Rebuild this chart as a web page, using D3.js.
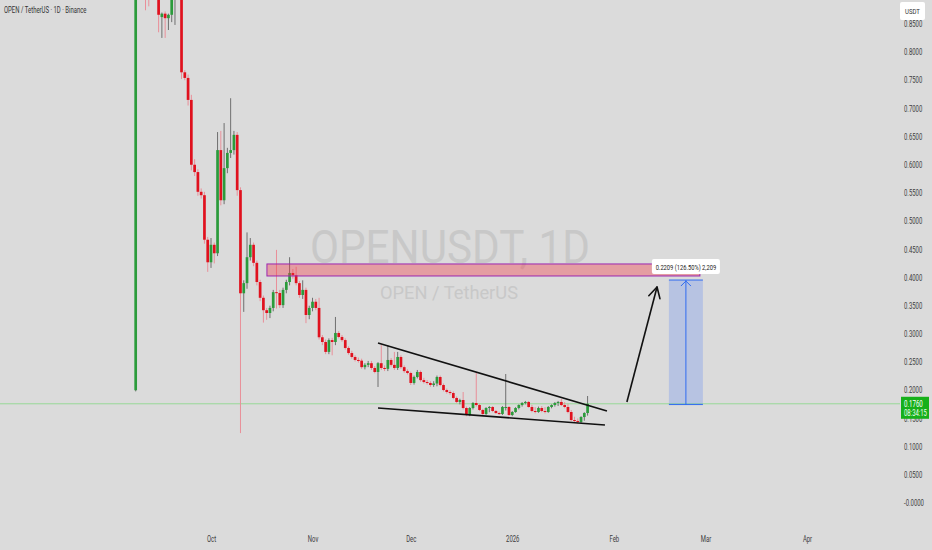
<!DOCTYPE html>
<html><head><meta charset="utf-8">
<script src="https://cdn.jsdelivr.net/npm/d3@7/dist/d3.min.js"></script>
<style>
html,body{margin:0;padding:0;background:#dbdbdb;}
svg{display:block;font-family:Roboto,"Noto Sans",sans-serif;}
</style></head>
<body><svg id="chart" width="932" height="550"></svg>
<script>
// ---------- DATA ----------
const startDate = "2025-09-08"; // first daily candle (listing day)
const open = [
 0.200,1.200,1.050,1.000,0.980,0.950,0.970,0.930,0.862,0.868,
 0.860,0.866,0.930,0.950,0.920,0.764,0.754,0.715,0.600,0.587,
 0.552,0.546,0.467,0.427,0.458,0.443,0.626,0.537,0.594,0.621,
 0.626,0.653,0.555,0.372,0.390,0.436,0.458,0.426,0.392,0.364,
 0.342,0.337,0.346,0.374,0.3725,0.351,0.378,0.392,0.408,0.404,
 0.390,0.369,0.378,0.3335,0.346,0.357,0.346,0.294,0.2856,0.268,
 0.289,0.2856,0.3016,0.2945,0.289,0.275,0.266,0.259,0.2537,0.2525,
 0.241,0.245,0.248,0.2395,0.2324,0.248,0.2395,0.238,0.2537,0.245,
 0.2395,0.259,0.241,0.234,0.2306,0.2129,0.2235,0.2324,0.218,0.2146,
 0.2129,0.2093,0.2120,0.2235,0.2093,0.2004,0.1969,0.1951,0.1863,0.1792,
 0.1827,0.1685,0.1561,0.1685,0.1774,0.1738,0.1650,0.1579,0.1685,0.1703,
 0.1632,0.1596,0.1579,0.1685,0.1703,0.1561,0.1614,0.1685,0.1738,0.1774,
 0.1792,0.1703,0.1632,0.1614,0.1685,0.1632,0.1614,0.1703,0.1738,0.1774,
 0.1792,0.1738,0.1703,0.1614,0.1472,0.1455,0.1437,0.1525,0.1596
];
const high = [
 1.800,1.500,1.150,1.050,1.020,1.000,0.990,0.950,0.870,0.872,
 0.868,0.930,0.960,1.000,0.940,0.768,0.760,0.724,0.610,0.592,
 0.558,0.552,0.472,0.470,0.462,0.658,0.660,0.674,0.630,0.718,
 0.660,0.658,0.560,0.395,0.480,0.470,0.462,0.430,0.396,0.368,
 0.346,0.350,0.378,0.449,0.378,0.382,0.396,0.436,0.415,0.419,
 0.394,0.395,0.382,0.350,0.364,0.362,0.364,0.298,0.290,0.292,
 0.293,0.330,0.305,0.298,0.292,0.278,0.270,0.262,0.258,0.256,
 0.248,0.252,0.252,0.243,0.250,0.280,0.244,0.280,0.257,0.268,
 0.268,0.262,0.244,0.237,0.233,0.226,0.236,0.235,0.222,0.218,
 0.216,0.216,0.226,0.226,0.212,0.203,0.200,0.198,0.189,0.185,
 0.1969,0.171,0.170,0.179,0.2306,0.176,0.167,0.170,0.172,0.172,
 0.165,0.162,0.172,0.2288,0.172,0.163,0.170,0.175,0.179,0.181,
 0.181,0.174,0.170,0.171,0.172,0.170,0.172,0.175,0.179,0.181,
 0.1845,0.179,0.176,0.165,0.153,0.150,0.154,0.161,0.1898
];
const low = [
 0.198,1.000,0.950,0.874,0.881,0.900,0.900,0.835,0.825,0.825,
 0.839,0.853,0.848,0.900,0.752,0.750,0.705,0.590,0.580,0.545,
 0.540,0.460,0.410,0.417,0.425,0.438,0.528,0.530,0.585,0.612,
 0.618,0.545,0.124,0.339,0.380,0.430,0.420,0.386,0.358,0.320,
 0.325,0.328,0.340,0.345,0.346,0.346,0.372,0.386,0.398,0.386,
 0.364,0.362,0.319,0.326,0.340,0.342,0.290,0.280,0.264,0.264,
 0.262,0.280,0.292,0.286,0.272,0.263,0.256,0.251,0.249,0.238,
 0.237,0.241,0.236,0.230,0.2058,0.236,0.234,0.234,0.242,0.236,
 0.236,0.238,0.231,0.228,0.2093,0.210,0.221,0.215,0.212,0.210,
 0.206,0.206,0.207,0.207,0.198,0.194,0.192,0.184,0.177,0.175,
 0.166,0.154,0.154,0.166,0.171,0.163,0.156,0.156,0.161,0.161,
 0.158,0.156,0.156,0.164,0.154,0.154,0.160,0.166,0.171,0.175,
 0.169,0.161,0.159,0.160,0.161,0.159,0.160,0.168,0.171,0.172,
 0.172,0.168,0.159,0.145,0.143,0.141,0.142,0.146,0.155
];
const close = [
 1.200,1.050,1.000,0.980,0.950,0.970,0.930,0.866,0.868,0.860,
 0.866,0.900,0.950,0.920,0.764,0.754,0.715,0.600,0.587,0.552,
 0.546,0.467,0.427,0.458,0.443,0.626,0.537,0.594,0.621,0.626,
 0.653,0.555,0.372,0.390,0.436,0.458,0.426,0.392,0.364,0.342,
 0.337,0.346,0.374,0.3725,0.351,0.378,0.392,0.408,0.404,0.390,
 0.369,0.378,0.3335,0.346,0.357,0.346,0.294,0.2856,0.268,0.289,
 0.2856,0.3016,0.2945,0.289,0.275,0.266,0.259,0.2537,0.2525,0.241,
 0.245,0.248,0.2395,0.2324,0.248,0.2395,0.238,0.2537,0.245,0.2395,
 0.259,0.241,0.234,0.2306,0.2129,0.2235,0.2324,0.218,0.2146,0.2129,
 0.2093,0.2120,0.2235,0.2093,0.2004,0.1969,0.1951,0.1863,0.1792,0.1827,
 0.1685,0.1561,0.1685,0.1774,0.1738,0.1650,0.1579,0.1685,0.1703,0.1632,
 0.1596,0.1579,0.1703,0.1703,0.1561,0.1614,0.1685,0.1738,0.1774,0.1792,
 0.1703,0.1632,0.1614,0.1685,0.1632,0.1614,0.1703,0.1738,0.1774,0.1792,
 0.1738,0.1703,0.1614,0.1472,0.1455,0.1437,0.1525,0.1596,0.1760
];
const monthTicks  = ["2025-10-01","2025-11-01","2025-12-01","2026-01-01","2026-02-01","2026-03-01","2026-04-01"];
const monthLabels = ["Oct","Nov","Dec","2026","Feb","Mar","Apr"];
const priceTicks  = [0,0.05,0.10,0.15,0.20,0.25,0.30,0.35,0.40,0.45,0.50,0.55,0.60,0.65,0.70,0.75,0.80,0.85];
const priceLabels = ["-0.0000","0.0500","0.1000","0.1500","0.2000","0.2500","0.3000","0.3500","0.4000","0.4500","0.5000","0.5500","0.6000","0.6500","0.7000","0.7500","0.8000","0.8500"];
const lastPrice = 0.1760, countdown = "08:34:15", currency = "USDT";
const titleText = "OPEN / TetherUS · 1D · Binance";
const watermark1 = "OPENUSDT, 1D", watermark2 = "OPEN / TetherUS";
// drawings (date, price anchors)
const zoneDates  = ["2025-10-18T02:00Z","2026-02-27T07:00Z"], zonePrices = [0.4027,0.424];
const upperLine  = [["2025-11-21T00:00Z",0.2838],["2026-01-29T22:00Z",0.1632]];
const lowerLine  = [["2025-11-21T00:00Z",0.1685],["2026-01-29T07:00Z",0.1384]];
const bigArrow   = [["2026-02-05T00:00Z",0.1792],["2026-02-14T05:00Z",0.3831]];
const measureDates = ["2026-02-17T20:00Z","2026-02-28T05:00Z"], measurePrices = [0.1746,0.3955];
const measureText = "0.2209 (126.50%) 2,209";

// ---------- SCALES ----------
const svg = d3.select("#chart");
const W = 932, H = 550, plotR = 900, plotB = 530;
const x = d3.scaleUtc().domain([new Date("2025-10-01T00:00Z"), new Date("2026-04-01T00:00Z")]).range([211, 807]);
const y = d3.scaleLinear().domain([0, 0.8]).range([503, 52]);
const day0 = new Date(startDate + "T00:00Z");
const candles = open.map((o,i)=>({date:d3.utcDay.offset(day0,i), o, h:high[i], l:low[i], c:close[i]}));

function squeeze(sel, f){ sel.each(function(){ const w=this.getComputedTextLength(); this.setAttribute("textLength", (w*f).toFixed(2)); this.setAttribute("lengthAdjust","spacingAndGlyphs"); }); }

svg.append("rect").attr("width",W).attr("height",H).attr("fill","#dbdbdb");
svg.append("defs").append("clipPath").attr("id","plot").append("rect").attr("x",0).attr("y",0).attr("width",plotR).attr("height",plotB);

// watermark
const wm = svg.append("g").attr("fill","#c8c8c8").attr("text-anchor","middle");
wm.append("text").attr("x",450).attr("y",263).attr("font-size",46).attr("textLength",280).attr("lengthAdjust","spacingAndGlyphs").text(watermark1);
wm.append("text").attr("x",449).attr("y",299).attr("font-size",19).attr("textLength",138).attr("lengthAdjust","spacingAndGlyphs").text(watermark2);

const plot = svg.append("g").attr("clip-path","url(#plot)");

// last price line
plot.append("line").attr("x1",0).attr("x2",plotR).attr("y1",y(lastPrice)).attr("y2",y(lastPrice)).attr("stroke","#98d898").attr("stroke-width",1);

// candles
const up="#2b9b3b", dn="#e0111e", wickUp="#6f6f6f", wickDn="#e98f99";
const cg = plot.append("g");
cg.selectAll("line.w").data(candles).join("line").attr("class","w")
  .attr("x1",d=>x(d.date)).attr("x2",d=>x(d.date)).attr("y1",d=>y(d.h)).attr("y2",d=>y(d.l))
  .attr("stroke",d=>d.c>=d.o?wickUp:wickDn).attr("stroke-width",1);
cg.selectAll("rect.b").data(candles).join("rect").attr("class","b")
  .attr("x",d=>x(d.date)-1.35).attr("width",2.7)
  .attr("y",d=>y(Math.max(d.o,d.c))).attr("height",d=>Math.max(1,Math.abs(y(d.o)-y(d.c))))
  .attr("fill",d=>d.c>=d.o?up:dn);

// zone
const zx0=x(new Date(zoneDates[0])), zx1=x(new Date(zoneDates[1])), zy0=y(zonePrices[1]), zy1=y(zonePrices[0]);
plot.append("rect").attr("x",zx0).attr("y",zy0).attr("width",zx1-zx0).attr("height",zy1-zy0)
  .attr("fill","#f23645").attr("fill-opacity",0.38).attr("stroke","#9c27b0").attr("stroke-width",1);

// trend lines
[upperLine, lowerLine].forEach(l=>{
  plot.append("line").attr("x1",x(new Date(l[0][0]))).attr("y1",y(l[0][1])).attr("x2",x(new Date(l[1][0]))).attr("y2",y(l[1][1]))
    .attr("stroke","#111").attr("stroke-width",1.6);
});
// big arrow
{
  const ax0=x(new Date(bigArrow[0][0])), ay0=y(bigArrow[0][1]), ax1=x(new Date(bigArrow[1][0])), ay1=y(bigArrow[1][1]);
  plot.append("line").attr("x1",ax0).attr("y1",ay0).attr("x2",ax1).attr("y2",ay1).attr("stroke","#111").attr("stroke-width",1.6);
  const ang=Math.atan2(ay0-ay1, ax0-ax1), L=12, spread=0.5;
  [ang-spread, ang+spread].forEach(a=>{
    plot.append("line").attr("x1",ax1).attr("y1",ay1).attr("x2",ax1+L*Math.cos(a)).attr("y2",ay1+L*Math.sin(a))
      .attr("stroke","#111").attr("stroke-width",1.6).attr("stroke-linecap","round");
  });
}
// measure
{
  const mx0=x(new Date(measureDates[0])), mx1=x(new Date(measureDates[1])), myB=y(measurePrices[0]), myT=y(measurePrices[1]), mc=(mx0+mx1)/2;
  const mg=plot.append("g");
  mg.append("rect").attr("x",mx0).attr("y",myT).attr("width",mx1-mx0).attr("height",myB-myT).attr("fill","#2962ff").attr("fill-opacity",0.2);
  const blue="#2f6bf0";
  mg.append("line").attr("x1",mx0).attr("x2",mx1).attr("y1",myT).attr("y2",myT).attr("stroke",blue);
  mg.append("line").attr("x1",mx0).attr("x2",mx1).attr("y1",myB).attr("y2",myB).attr("stroke",blue);
  mg.append("line").attr("x1",mc).attr("x2",mc).attr("y1",myB).attr("y2",myT).attr("stroke",blue);
  mg.append("path").attr("d",`M${mc-5},${myT+6}L${mc},${myT+1}L${mc+5},${myT+6}`).attr("fill","none").attr("stroke",blue);
  const lb=mg.append("g");
  lb.append("rect").attr("x",mc-34).attr("y",myT-21).attr("width",68).attr("height",15).attr("rx",2).attr("fill","#ffffff");
  const t=lb.append("text").attr("x",mc).attr("y",myT-10.5).attr("text-anchor","middle").attr("font-size",8).attr("fill","#222").text(measureText);
  squeeze(t,0.72);
}

// axes
const ya = svg.append("g").attr("transform",`translate(904,0)`)
  .call(d3.axisRight(y).tickValues(priceTicks).tickFormat((d,i)=>priceLabels[i]).tickSize(0).tickPadding(0));
ya.select(".domain").remove();
ya.selectAll("text").attr("font-size",8.5).attr("fill","#3b3b3b").attr("font-family","Roboto");
squeeze(ya.selectAll("text"),0.7);

const xa = svg.append("g").attr("transform",`translate(0,536)`)
  .call(d3.axisBottom(x).tickValues(monthTicks.map(s=>new Date(s+"T00:00Z"))).tickFormat((d,i)=>monthLabels[i]).tickSize(0).tickPadding(0));
xa.select(".domain").remove();
xa.selectAll("text").attr("font-size",8.5).attr("fill","#3b3b3b").attr("font-family","Roboto");
squeeze(xa.selectAll("text"),0.7);

// currency box
svg.append("rect").attr("x",900).attr("y",2).attr("width",25).attr("height",18).attr("rx",2).attr("fill","#ffffff");
squeeze(svg.append("text").attr("x",912.5).attr("y",14).attr("text-anchor","middle").attr("font-size",8).attr("fill","#333").text(currency),0.75);

// last price label
const py=y(lastPrice);
svg.append("rect").attr("x",901).attr("y",py-7).attr("width",28).attr("height",22).attr("fill","#16b01a");
squeeze(svg.append("text").attr("x",904).attr("y",py+3).attr("font-size",8.5).attr("fill","#fff").text(d3.format(".4f")(lastPrice)),0.72);
squeeze(svg.append("text").attr("x",904).attr("y",py+12.5).attr("font-size",8.5).attr("fill","#f0fff0").text(countdown),0.7);

// title
squeeze(svg.append("text").attr("x",4).attr("y",13).attr("font-size",8.5).attr("fill","#333").text(titleText),0.7);
</script></body></html>
